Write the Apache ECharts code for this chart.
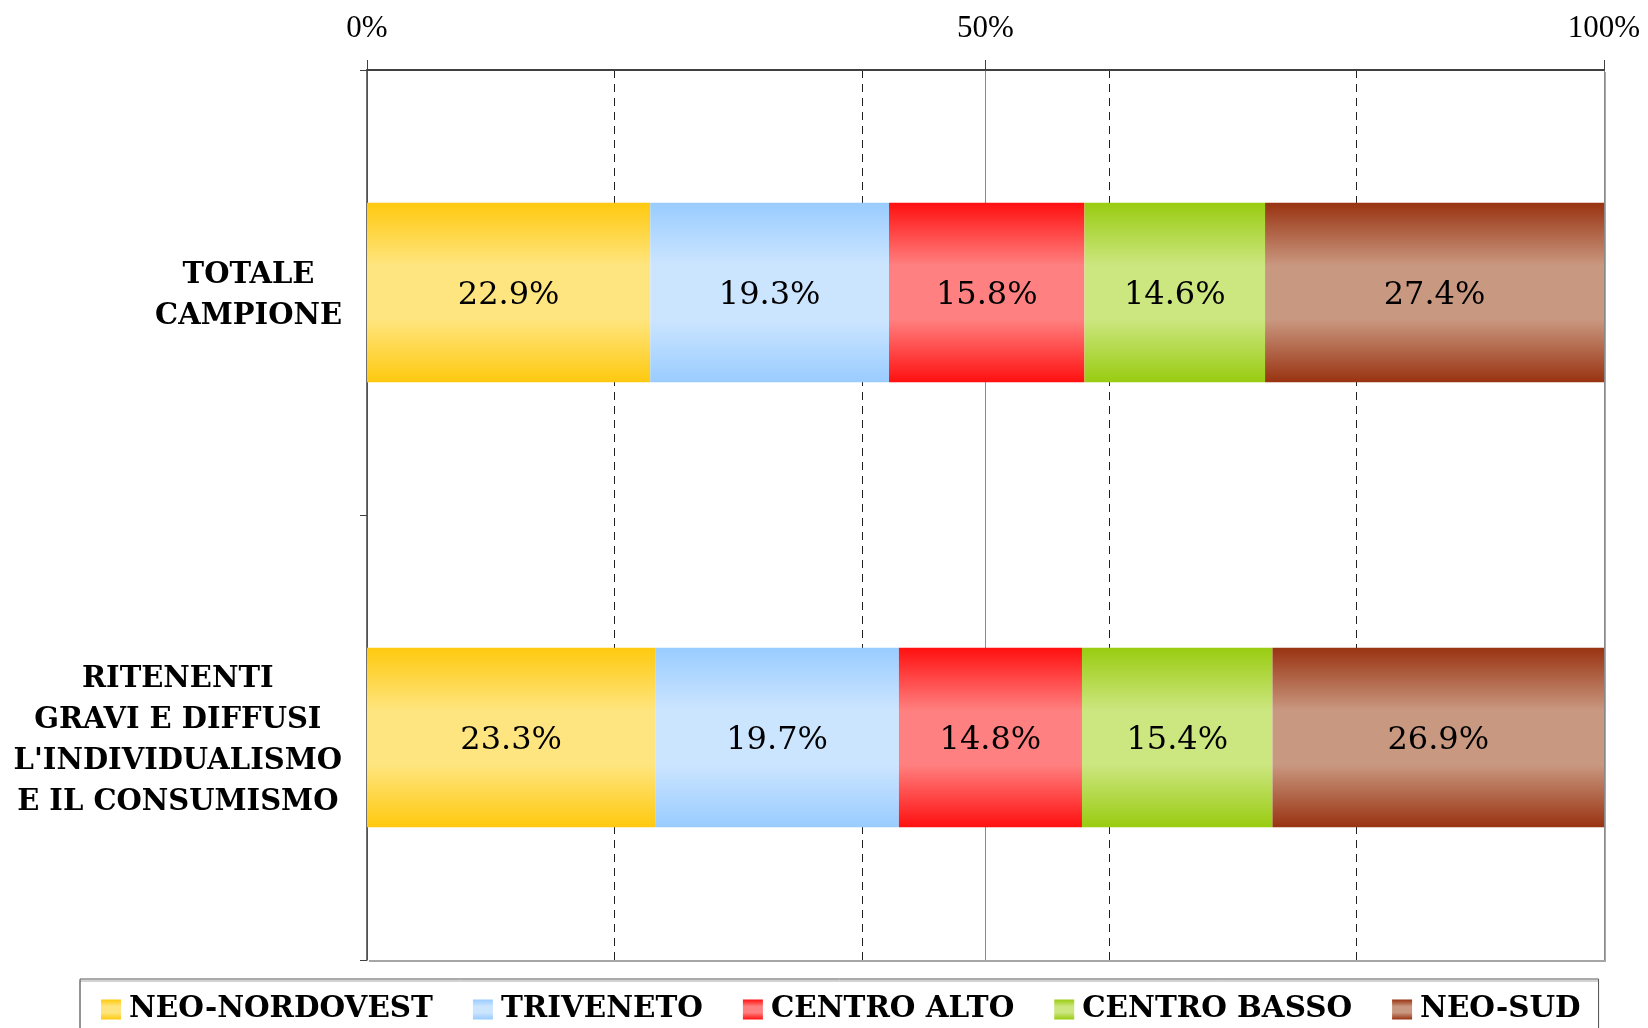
<!DOCTYPE html>
<html>
<head>
<meta charset="utf-8">
<title>Chart</title>
<script src="https://cdn.jsdelivr.net/npm/echarts@6/dist/echarts.min.js"></script>
<style>
    html, body { margin: 0; padding: 0; background: #fff; }
    #chart { width: 1648px; height: 1028px; }
</style>
</head>
<body>
<div id="chart"></div>
<script>
    // categories (top to bottom)
    const categories = ['TOTALE\nCAMPIONE', 'RITENENTI\nGRAVI E DIFFUSI\nL\'INDIVIDUALISMO\nE IL CONSUMISMO'];
    const seriesNames = ['NEO-NORDOVEST', 'TRIVENETO', 'CENTRO ALTO', 'CENTRO BASSO', 'NEO-SUD'];
    const neoNordovest = [22.9, 23.3];
    const triveneto = [19.3, 19.7];
    const centroAlto = [15.8, 14.8];
    const centroBasso = [14.6, 15.4];
    const neoSud = [27.4, 26.9];
    const xTicks = [0, 50, 100];

    // edge colour / centre colour of each gradient
    const edgeColors = ['#fec90f', '#99ccff', '#ff1010', '#99cc11', '#993311'];
    const midColors = ['#ffe57f', '#cce5ff', '#ff8080', '#cce680', '#c99880'];

    const serif = '"DejaVu Serif", serif';

    function grad(i) {
        return new echarts.graphic.LinearGradient(0, 0, 0, 1, [
            {offset: 0, color: edgeColors[i]},
            {offset: 0.35, color: midColors[i]},
            {offset: 0.65, color: midColors[i]},
            {offset: 1, color: edgeColors[i]}
        ]);
    }

    const myChart = echarts.init(document.getElementById('chart'));
    const values = [neoNordovest, triveneto, centroAlto, centroBasso, neoSud];

    const option = {
        animation: false,
        backgroundColor: '#fff',
        grid: {
            left: 367,
            right: 44,
            top: 70,
            bottom: 68,
            show: true,
            borderWidth: 0,
            backgroundColor: '#fff',
            shadowColor: 'rgba(0,0,0,0.35)',
            shadowOffsetX: 2,
            shadowOffsetY: 2,
            shadowBlur: 0
        },
        legend: {
            data: seriesNames,
            left: 80,
            top: 979,
            orient: 'horizontal',
            icon: 'rect',
            itemWidth: 20,
            itemHeight: 20,
            itemGap: 40,
            padding: [16, 18, 11, 21],
            borderColor: '#555',
            borderWidth: 1,
            shadowColor: 'rgba(0,0,0,0.35)',
            shadowOffsetY: 2,
            textStyle: {
                fontFamily: serif,
                fontWeight: 'bold',
                fontSize: 29.4,
                color: '#000',
                padding: [0, 0, 0, 3]
            }
        },
        xAxis: [
            {
                type: 'value',
                position: 'top',
                min: 0,
                max: 100,
                interval: 50,
                axisLine: {show: true, lineStyle: {color: '#404040', width: 2}},
                axisTick: {show: true, length: 10, lineStyle: {color: '#404040'}},
                axisLabel: {
                    margin: 26,
                    fontFamily: '"Liberation Serif", serif',
                    fontSize: 31,
                    color: '#000',
                    formatter: function (v) { return xTicks.indexOf(v) >= 0 ? v + '%' : ''; }
                },
                splitLine: {show: true, lineStyle: {color: '#8a8a8a', width: 1}}
            },
            {
                type: 'value',
                position: 'top',
                min: 0,
                max: 100,
                interval: 20,
                axisLine: {show: false},
                axisTick: {show: false},
                axisLabel: {show: false},
                splitLine: {
                    show: true,
                    showMinLine: false,
                    showMaxLine: false,
                    lineStyle: {color: '#222', type: [8, 6], width: 1}
                }
            }
        ],
        yAxis: {
            type: 'category',
            inverse: true,
            data: categories,
            axisLine: {show: true, lineStyle: {color: '#404040', width: 1.5}},
            axisTick: {show: true, length: 7, lineStyle: {color: '#404040'}},
            axisLabel: {
                margin: 25,
                align: 'right',
                padding: [7, 0, 0, 0],
                formatter: function (v) {
                    return v.split('\n').map(function (s) { return '{c|' + s + '}'; }).join('\n');
                },
                rich: {
                    c: {
                        align: 'center',
                        fontFamily: serif,
                        fontWeight: 'bold',
                        fontSize: 29,
                        lineHeight: 41,
                        color: '#000'
                    }
                }
            }
        },
        series: seriesNames.map(function (name, i) {
            return {
                name: name,
                type: 'bar',
                stack: 'tot',
                barWidth: '40.3%',
                xAxisIndex: 0,
                data: values[i],
                itemStyle: {color: grad(i)},
                label: {
                    show: true,
                    position: 'inside',
                    offset: [0, 3],
                    fontFamily: serif,
                    fontSize: 32,
                    color: '#000',
                    formatter: function (p) { return p.value.toFixed(1) + '%'; }
                }
            };
        })
    };
    myChart.setOption(option);
</script>
</body>
</html>
